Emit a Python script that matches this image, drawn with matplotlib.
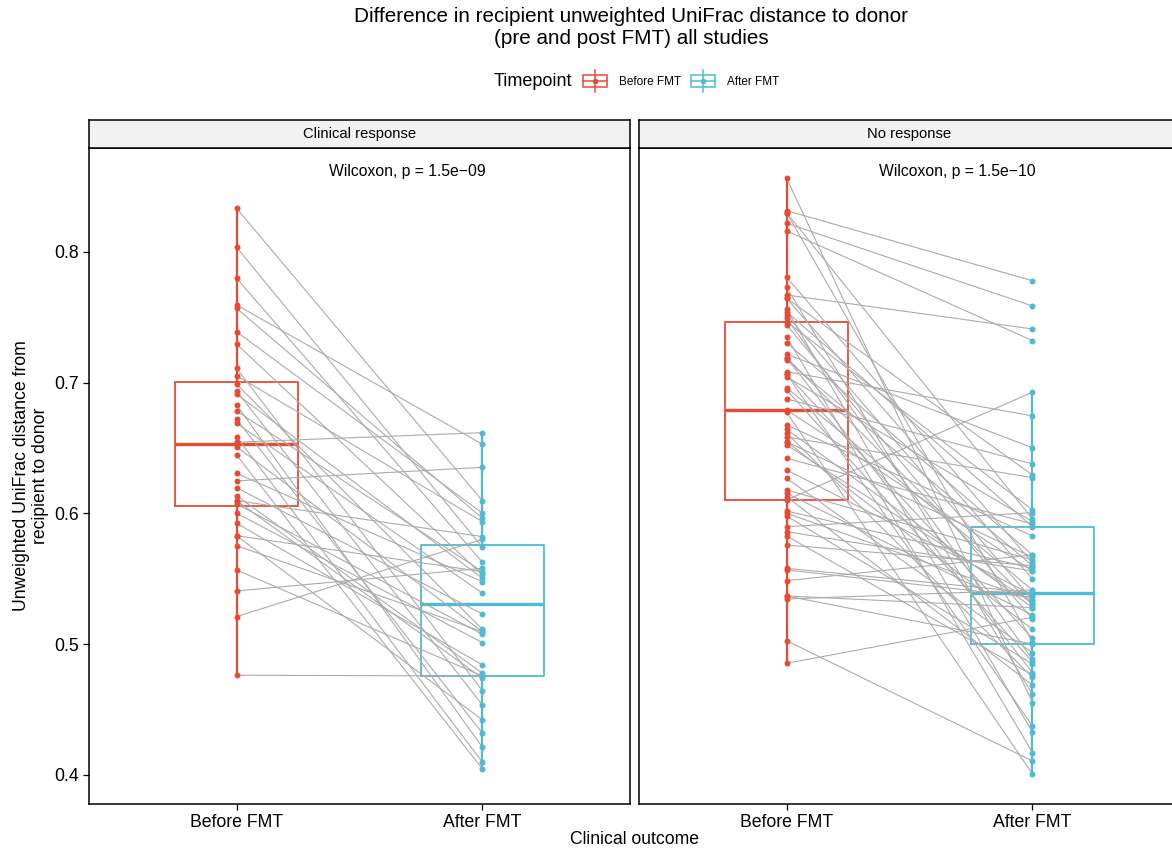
import numpy as np
import matplotlib.pyplot as plt
from matplotlib.patches import Rectangle
from matplotlib.lines import Line2D
from matplotlib.legend_handler import HandlerBase

plt.rcParams['font.family'] = ['Liberation Sans', 'DejaVu Sans']

# Data (paired: before[i] -> after[i])
panels = ["Clinical response", "No response"]
timepoints = ["Before FMT", "After FMT"]
pvalues = ["1.5e\u221209", "1.5e\u221210"]

before_cr = [0.8334, 0.8036, 0.7799, 0.7595, 0.7569, 0.7390, 0.7296, 0.7111, 0.7054,
             0.6988, 0.6937, 0.6914, 0.6830, 0.6784, 0.6720, 0.6690, 0.6587, 0.6545,
             0.6511, 0.6447, 0.6307, 0.6249, 0.6197, 0.6136, 0.6098, 0.6098, 0.6073,
             0.6002, 0.5925, 0.5830, 0.5830, 0.5754, 0.5568, 0.5407, 0.5211, 0.4763]
after_cr = [0.6096, 0.5741, 0.5627, 0.6529, 0.5963, 0.6002, 0.5530, 0.4643, 0.5937,
            0.5114, 0.4535, 0.5504, 0.4212, 0.5555, 0.4319, 0.5390, 0.4097, 0.6618,
            0.5096, 0.4046, 0.5478, 0.6353, 0.5231, 0.4778, 0.5823, 0.4740, 0.5076,
            0.5012, 0.4841, 0.5555, 0.4421, 0.5096, 0.4757, 0.5581, 0.5803, 0.4757]

before_nr = [0.8564, 0.8316, 0.8301, 0.8301, 0.8220, 0.8161, 0.7807, 0.7730, 0.7671,
             0.7646, 0.7646, 0.7562, 0.7543, 0.7518, 0.7493, 0.7467, 0.7442, 0.7352,
             0.7306, 0.7218, 0.7192, 0.7192, 0.7174, 0.7085, 0.7065, 0.7065, 0.7046,
             0.6962, 0.6945, 0.6876, 0.6792, 0.6774, 0.6677, 0.6644, 0.6616, 0.6585,
             0.6549, 0.6549, 0.6524, 0.6422, 0.6333, 0.6269, 0.6180, 0.6155, 0.6129,
             0.6103, 0.6019, 0.6002, 0.5981, 0.5899, 0.5861, 0.5828, 0.5759,
             0.5581, 0.5568, 0.5486, 0.5369, 0.5369, 0.5346, 0.5027, 0.4854]
after_nr = [0.4553, 0.7780, 0.5020, 0.5958, 0.7587, 0.7322, 0.5624, 0.4617, 0.7411,
            0.5499, 0.6294, 0.4327, 0.5899, 0.5338, 0.4885, 0.6027, 0.5191, 0.4171,
            0.5683, 0.6503, 0.5300, 0.4782, 0.5601, 0.6746, 0.5046, 0.4375, 0.5937,
            0.5415, 0.4867, 0.6379, 0.5560, 0.4008, 0.5828, 0.5280, 0.4747, 0.6274,
            0.5114, 0.5665, 0.5318, 0.5920, 0.5377, 0.4935, 0.5644, 0.5224, 0.4688,
            0.6927, 0.5581, 0.5338, 0.4849, 0.6006, 0.5560, 0.4765, 0.5601,
            0.5394, 0.5359, 0.5683, 0.5002, 0.5280, 0.5415, 0.4107, 0.5206]

data = [(before_cr, after_cr), (before_nr, after_nr)]
red = "#E64B35"
blue = "#4DBBD5"
colors = [red, blue]

W, H = 1172, 849
def rect(x0, y0, x1, y1):
    return [x0 / W, 1 - y1 / H, (x1 - x0) / W, (y1 - y0) / H]

fig = plt.figure(figsize=(W / 100, H / 100), dpi=100)

panel_x = [(89, 630), (639, 1180)]
for k, (x0, x1) in enumerate(panel_x):
    ax = fig.add_axes(rect(x0, 148, x1, 804))
    b, a = np.array(data[k][0]), np.array(data[k][1])
    # boxes
    for j, vals in enumerate([b, a]):
        c = colors[j]
        ax.boxplot([vals], positions=[j + 1], widths=0.5, whis=1.5, showfliers=False,
                   showcaps=False, zorder=1,
                   boxprops=dict(color=c, lw=1.3),
                   whiskerprops=dict(color=c, lw=1.6),
                   medianprops=dict(color=c, lw=2.4))
    # paired lines
    xs = np.vstack([np.ones(len(b)), np.full(len(a), 2.0)])
    ax.plot(xs, np.vstack([b, a]), color="#ababab", lw=0.8, zorder=2)
    ax.plot(np.ones(len(b)), b, 'o', color=red, ms=4.3, mec='none', zorder=3)
    ax.plot(np.full(len(a), 2.0), a, 'o', color=blue, ms=4.3, mec='none', zorder=3)
    ax.text(1.695, 0.8612, "Wilcoxon, p = " + pvalues[k], ha='center', va='center', fontsize=11.3)

    ax.set_xlim(0.4, 2.6)
    ax.set_ylim(0.3778, 0.8795)
    ax.set_xticks([1, 2])
    ax.set_xticklabels(timepoints, fontsize=12.7)
    ax.set_yticks([0.4, 0.5, 0.6, 0.7, 0.8])
    ax.set_yticklabels(["0.4", "0.5", "0.6", "0.7", "0.8"], fontsize=12.7)
    ax.tick_params(length=4, width=0.9, color='black', labelcolor='black')
    if k == 1:
        ax.tick_params(axis='y', left=False, labelleft=False)
    for s in ax.spines.values():
        s.set_linewidth(1.1)
        s.set_color('black')

    # facet strip
    st = fig.add_axes(rect(x0, 120, x1, 148))
    st.set_facecolor("#f2f2f2")
    st.set_xticks([])
    st.set_yticks([])
    for s in st.spines.values():
        s.set_linewidth(1.1)
        s.set_color('black')
    st.text(0.5, 0.5, panels[k], ha='center', va='center', fontsize=10.6, transform=st.transAxes)

fig.text(631 / W, 1 - 17 / H, "Difference in recipient unweighted UniFrac distance to donor",
         ha='center', va='center', fontsize=14.9)
fig.text(631 / W, 1 - 39 / H, "(pre and post FMT) all studies",
         ha='center', va='center', fontsize=14.9)
fig.text(31 / W, 1 - 476 / H, "Unweighted UniFrac distance from\nrecipient to donor",
         rotation=90, ha='center', va='center', fontsize=12.7, linespacing=1.1)
fig.text(634 / W, 1 - 840 / H, "Clinical outcome", ha='center', va='center', fontsize=12.7)
fig.text(494 / W, 1 - 81 / H, "Timepoint", ha='left', va='center', fontsize=13)


class BoxKey(HandlerBase):
    def create_artists(self, legend, orig_handle, xdescent, ydescent, width, height, fontsize, trans):
        c = orig_handle.get_color()
        x0 = -xdescent
        cx = x0 + width / 2
        cy = -ydescent + height / 2
        r = Rectangle((x0 + width * 0.08, cy - height * 0.45), width * 0.84, height * 0.9,
                      fill=False, ec=c, lw=1.1, transform=trans)
        v = Line2D([cx, cx], [cy - height * 0.85, cy + height * 0.85], color=c, lw=1.1, transform=trans)
        h = Line2D([x0 + width * 0.08, x0 + width * 0.92], [cy, cy], color=c, lw=1.1, transform=trans)
        d = Line2D([cx], [cy], marker='o', ms=4, color=c, mec='none', transform=trans)
        return [r, v, h, d]


handles = [Line2D([], [], color=red, label=timepoints[0]),
           Line2D([], [], color=blue, label=timepoints[1])]
fig.legend(handles=handles, handler_map={Line2D: BoxKey()}, loc='center left',
           bbox_to_anchor=(581 / W, 1 - 81 / H), ncol=2, frameon=False, fontsize=8.5,
           handlelength=2.4, handleheight=1.3, handletextpad=0.8, columnspacing=0.7,
           borderpad=0, borderaxespad=0)

fig.savefig("out.png", dpi=100)
